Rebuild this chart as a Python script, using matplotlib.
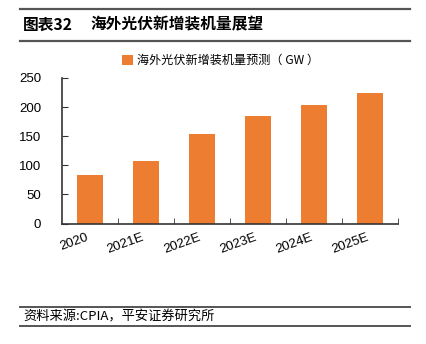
import matplotlib
matplotlib.use('Agg')
import matplotlib.pyplot as plt
from matplotlib.lines import Line2D

plt.rcParams['font.family'] = ['Noto Sans CJK SC', 'DejaVu Sans']

years = ['2020', '2021E', '2022E', '2023E', '2024E', '2025E']
capacity = [84, 108, 153, 185, 203, 224]
series_name = '海外光伏新增装机量预测（ GW ）'

W, H = 426, 344
fig = plt.figure(figsize=(W / 100, H / 100), dpi=100)
ax = fig.add_axes([62 / W, 1 - 223.5 / H, 336 / W, 145.5 / H])

x = list(range(len(years)))
ax.bar(x, capacity, width=0.46, color='#ED7D31', label=series_name)
ax.set_xlim(-0.5, len(years) - 0.5)
ax.set_ylim(0, 250)
ax.set_xticks(x)
ax.set_xticklabels(years, rotation=20, ha='right', fontsize=9.5,
                   family=['Liberation Sans', 'DejaVu Sans'])
ax.set_yticks(range(0, 251, 50))
ax.set_yticklabels([str(v) for v in range(0, 251, 50)], fontsize=9.5,
                   family=['Liberation Sans', 'DejaVu Sans'])
ax.set_xticks([i + 0.5 for i in x], minor=True)
ax.tick_params(axis='x', which='major', length=0, pad=6)
ax.tick_params(axis='x', which='minor', direction='in', length=4, color='#333333')
ax.tick_params(axis='y', direction='in', length=4, color='#333333', pad=15)
for s in ['top', 'right']:
    ax.spines[s].set_visible(False)
for s in ['left', 'bottom']:
    ax.spines[s].set_color('#333333')
    ax.spines[s].set_linewidth(1.2)

ax.legend(loc='upper left', bbox_to_anchor=(0.165, 1.2), frameon=False, fontsize=8.7,
          handlelength=0.9, handleheight=0.9, handletextpad=0.3, borderaxespad=0)

def hline(y, lw):
    fig.add_artist(Line2D([20 / W, 410 / W], [1 - y / H, 1 - y / H], color='#555555', lw=lw))

hline(8.5, 1.6)
hline(41, 1.6)
hline(307, 1.4)
hline(326, 1.4)

fig.text(23 / W, 1 - 24.5 / H, '图表32', fontsize=11.3, fontweight='bold', va='center')
fig.text(90 / W, 1 - 24.5 / H, '海外光伏新增装机量展望', fontsize=11.3, fontweight='bold', va='center')
fig.text(23 / W, 1 - 317 / H, '资料来源:CPIA，平安证券研究所', fontsize=9.5, style='italic', va='center')

fig.savefig('out.png', dpi=100)
